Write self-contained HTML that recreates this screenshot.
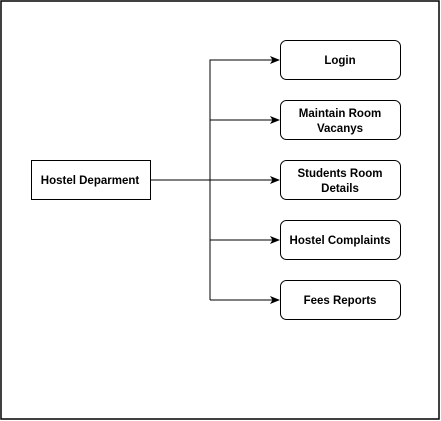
<!DOCTYPE html>
<html><head><style>body{margin:0;background:#fff}</style></head><body>
<svg width="441" height="421" xmlns="http://www.w3.org/2000/svg" style="display:block">
<rect x="1" y="1" width="438" height="418" fill="#fff" stroke="#000" stroke-width="1.5"/>
<defs><marker id="a" markerWidth="10" markerHeight="8" refX="9" refY="4" orient="auto" markerUnits="userSpaceOnUse"><path d="M0,0 L10,4 L0,8 L2.5,4 Z" fill="#000"/></marker></defs>
<g stroke="#000" stroke-width="1" fill="none">
<path d="M151,180 H279" marker-end="url(#a)"/>
<path d="M210,300 V60 H279" marker-end="url(#a)"/>
<path d="M210,120 H279" marker-end="url(#a)"/>
<path d="M210,240 H279" marker-end="url(#a)"/>
<path d="M210,300 H279" marker-end="url(#a)"/>
</g>
<g fill="#fff" stroke="#000" stroke-width="1">
<rect x="31.5" y="160.5" width="119" height="39"/>
<rect x="280.5" y="40.5" width="120" height="39" rx="6"/>
<rect x="280.5" y="100.5" width="120" height="39" rx="6"/>
<rect x="280.5" y="160.5" width="120" height="39" rx="6"/>
<rect x="280.5" y="220.5" width="120" height="39" rx="6"/>
<rect x="280.5" y="280.5" width="120" height="39" rx="6"/>
</g>
<g font-family="Liberation Sans, sans-serif" font-size="11.5" text-anchor="middle" fill="#000" font-weight="bold">
<text x="90" y="184">Hostel Deparment</text>
<text x="340" y="64">Login</text>
<text x="340" y="117">Maintain Room</text>
<text x="340" y="132">Vacanys</text>
<text x="340" y="177">Students Room</text>
<text x="340" y="192">Details</text>
<text x="340" y="244">Hostel Complaints</text>
<text x="340" y="304">Fees Reports</text>
</g>
</svg>
</body></html>
